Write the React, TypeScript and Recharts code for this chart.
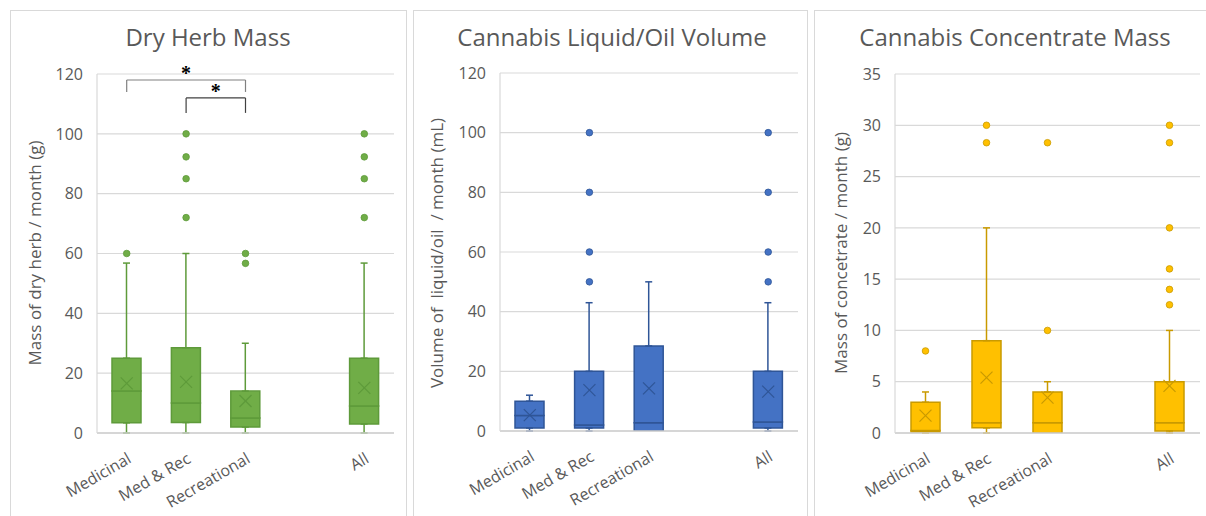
import React from 'react';
import {
  ComposedChart,
  Bar,
  Line,
  XAxis,
  YAxis,
  CartesianGrid,
  ErrorBar,
  ReferenceLine,
} from 'recharts';

const categories = ['Medicinal', 'Med & Rec', 'Recreational', '', 'All'];

// Dry herb mass (g / month)
const herbMin = [0, 0, 0, null, 0];
const herbQ1 = [3.4, 3.5, 2, null, 3];
const herbMedian = [14, 10, 5, null, 9];
const herbQ3 = [25, 28.5, 14, null, 25];
const herbMax = [56.8, 60, 30, null, 56.8];
const herbMean = [16.6, 17.1, 10.7, null, 15.1];
const herbOutliers = [[60], [72, 85, 92.3, 100], [56.7, 60], [], [72, 85, 92.3, 100]];
const herbTicks = [0, 20, 40, 60, 80, 100, 120];

// Liquid / oil volume (mL / month)
const oilMin = [0, 0, 0, null, 0];
const oilQ1 = [1, 1, 0, null, 1];
const oilMedian = [5.2, 2, 2.8, null, 3];
const oilQ3 = [10, 20, 28.5, null, 20];
const oilMax = [12, 43, 50, null, 43];
const oilMean = [5.3, 13.7, 14.3, null, 13.2];
const oilOutliers = [[], [50, 60, 80, 100], [], [], [50, 60, 80, 100]];
const oilTicks = [0, 20, 40, 60, 80, 100, 120];

// Concentrate mass (g / month)
const concMin = [0, 0, 0, null, 0];
const concQ1 = [0.1, 0.5, 0, null, 0.2];
const concMedian = [0.25, 1, 1, null, 1];
const concQ3 = [3, 9, 4, null, 5];
const concMax = [4, 20, 5, null, 10];
const concMean = [1.7, 5.4, 3.45, null, 4.6];
const concOutliers = [[8], [28.3, 30], [10, 28.3], [], [12.5, 14, 16, 20, 28.3, 30]];
const concTicks = [0, 5, 10, 15, 20, 25, 30, 35];

const FONT = "'Open Sans', 'Noto Sans', sans-serif";
const TEXT = '#595959';
const GRID = '#D9D9D9';
const MAX_OUT = 6;

function buildRows(min: any[], q1: any[], med: any[], q3: any[], max: any[], mean: any[], outliers: number[][]) {
  return categories.map((name, i) => {
    const row: any = { name };
    if (q1[i] == null) return row;
    row.base = q1[i];
    row.lower = med[i] - q1[i];
    row.upper = q3[i] - med[i];
    row.lowErr = [q1[i] - min[i], 0];
    row.highErr = [0, max[i] - q3[i]];
    row.mean = mean[i];
    outliers[i].forEach((v, k) => {
      row['o' + k] = v;
    });
    return row;
  });
}

const meanMark = (color: string) => (props: any) => {
  const { cx, cy, index } = props;
  if (cx == null || cy == null) return <g key={`m-${index}`} />;
  const s = 6;
  return (
    <g key={`m-${index}`}>
      <line x1={cx - s} y1={cy - s} x2={cx + s} y2={cy + s} stroke={color} strokeWidth={1.2} />
      <line x1={cx - s} y1={cy + s} x2={cx + s} y2={cy - s} stroke={color} strokeWidth={1.2} />
    </g>
  );
};

type PanelProps = {
  left: number;
  width: number;
  title: string;
  titleCenter: number;
  yLabel: string;
  yLabelX: number;
  rows: any[];
  ticks: number[];
  fill: string;
  stroke: string;
  margin: { top: number; right: number; bottom: number; left: number };
  children?: React.ReactNode;
};

const Panel = ({ left, width, title, titleCenter, yLabel, yLabelX, rows, ticks, fill, stroke, margin, children }: PanelProps) => {
  const height = 506;
  return (
    <>
      <div
        style={{
          position: 'absolute',
          left,
          top: 10,
          width: width - 2,
          height: 540,
          border: `1px solid ${GRID}`,
        }}
      />
      <div style={{ position: 'absolute', left, top: 10 }}>
        <ComposedChart width={width} height={height} data={rows} margin={margin} barCategoryGap="25%">
          <CartesianGrid vertical={false} stroke={GRID} strokeWidth={1.2} />
          <XAxis
            dataKey="name"
            interval={0}
            height={60}
            tickLine={false}
            axisLine={{ stroke: '#CFCFCF', strokeWidth: 1.5 }}
            tick={{ angle: -30, textAnchor: 'end', fontSize: 16, fill: TEXT, fontFamily: FONT, dy: 11 }}
          />
          <YAxis
            width={60}
            domain={[ticks[0], ticks[ticks.length - 1]]}
            ticks={ticks}
            allowDataOverflow
            tickLine={false}
            axisLine={{ stroke: GRID, strokeWidth: 1.2 }}
            tickMargin={8}
            tick={{ fontSize: 16, fill: TEXT, fontFamily: FONT }}
          />
          <Bar dataKey="base" stackId="box" fill="none" stroke="none" barSize={29} isAnimationActive={false}>
            <ErrorBar dataKey="lowErr" direction="y" width={3.5} stroke={stroke} strokeWidth={1.5} />
          </Bar>
          <Bar dataKey="lower" stackId="box" fill={fill} stroke={stroke} strokeWidth={1.5} barSize={29} isAnimationActive={false} />
          <Bar dataKey="upper" stackId="box" fill={fill} stroke={stroke} strokeWidth={1.5} barSize={29} isAnimationActive={false}>
            <ErrorBar dataKey="highErr" direction="y" width={3.5} stroke={stroke} strokeWidth={1.5} />
          </Bar>
          <Line dataKey="mean" stroke="none" dot={meanMark(stroke)} activeDot={false} isAnimationActive={false} />
          {Array.from({ length: MAX_OUT }, (_, k) => (
            <Line
              key={k}
              dataKey={'o' + k}
              stroke="none"
              dot={{ r: 3.3, fill, stroke, strokeWidth: 0.8 }}
              activeDot={false}
              isAnimationActive={false}
            />
          ))}
          {children}
        </ComposedChart>
      </div>
      <div
        style={{
          position: 'absolute',
          left: titleCenter - 200,
          top: 22,
          width: 400,
          textAlign: 'center',
          fontFamily: FONT,
          fontSize: 24,
          color: TEXT,
          lineHeight: '30px',
          whiteSpace: 'nowrap',
        }}
      >
        {title}
      </div>
      <div
        style={{
          position: 'absolute',
          left: yLabelX,
          top: 253,
          transform: 'translate(-50%, -50%) rotate(-90deg)',
          fontFamily: FONT,
          fontSize: 17,
          color: TEXT,
          whiteSpace: 'pre',
        }}
      >
        {yLabel}
      </div>
    </>
  );
};

const herbRows = buildRows(herbMin, herbQ1, herbMedian, herbQ3, herbMax, herbMean, herbOutliers);
const oilRows = buildRows(oilMin, oilQ1, oilMedian, oilQ3, oilMax, oilMean, oilOutliers);
const concRows = buildRows(concMin, concQ1, concMedian, concQ3, concMax, concMean, concOutliers);

const starLabel = { value: '*', position: 'top' as const, fill: '#000', fontSize: 20, fontWeight: 'bold', offset: 0 };

export default function App() {
  return (
    <div style={{ position: 'absolute', left: 0, top: 0, width: 1206, height: 516, overflow: 'hidden', background: '#fff' }}>
      <Panel
        left={10}
        width={397}
        title="Dry Herb Mass"
        titleCenter={208}
        yLabel="Mass of dry herb / month (g)"
        yLabelX={34}
        rows={herbRows}
        ticks={herbTicks}
        fill="#70AD47"
        stroke="#5E9A3A"
        margin={{ top: 64, right: 13, bottom: 23, left: 27 }}
      >
        <ReferenceLine segment={[{ x: 'Medicinal', y: 118 }, { x: 'Recreational', y: 118 }]} stroke="#808080" strokeWidth={1.2} label={starLabel} />
        <ReferenceLine segment={[{ x: 'Medicinal', y: 118 }, { x: 'Medicinal', y: 114 }]} stroke="#808080" strokeWidth={1.2} />
        <ReferenceLine segment={[{ x: 'Recreational', y: 118 }, { x: 'Recreational', y: 114 }]} stroke="#808080" strokeWidth={1.2} />
        <ReferenceLine segment={[{ x: 'Med & Rec', y: 112 }, { x: 'Recreational', y: 112 }]} stroke="#404040" strokeWidth={1.2} label={starLabel} />
        <ReferenceLine segment={[{ x: 'Med & Rec', y: 112 }, { x: 'Med & Rec', y: 107 }]} stroke="#404040" strokeWidth={1.2} />
        <ReferenceLine segment={[{ x: 'Recreational', y: 112 }, { x: 'Recreational', y: 107 }]} stroke="#404040" strokeWidth={1.2} />
      </Panel>
      <Panel
        left={413}
        width={395}
        title="Cannabis Liquid/Oil Volume"
        titleCenter={612}
        yLabel="Volume of  liquid/oil  / month (mL)"
        yLabelX={436}
        rows={oilRows}
        ticks={oilTicks}
        fill="#4472C4"
        stroke="#2F5597"
        margin={{ top: 63, right: 10, bottom: 25, left: 27 }}
      />
      <Panel
        left={814}
        width={396}
        title="Cannabis Concentrate Mass"
        titleCenter={1015}
        yLabel="Mass of concetrate / month (g)"
        yLabelX={840}
        rows={concRows}
        ticks={concTicks}
        fill="#FFC000"
        stroke="#C99A00"
        margin={{ top: 64, right: 10, bottom: 23, left: 21 }}
      />
    </div>
  );
}
